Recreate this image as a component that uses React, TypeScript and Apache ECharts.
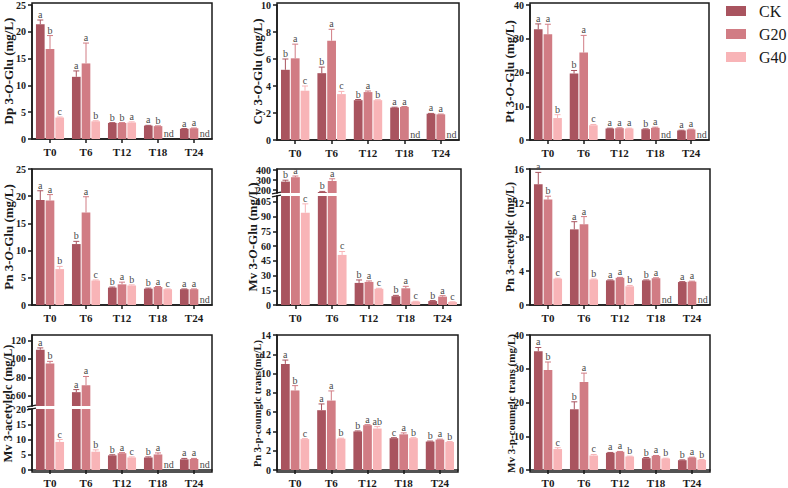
import { useEffect, useRef } from 'react';
import * as echarts from 'echarts';

const categories = ['T0', 'T6', 'T12', 'T18', 'T24'];
const groupNames = ['CK', 'G20', 'G40'];
const groupColors = ['#A9545F', '#D17C84', '#F8B4B7'];

// Each panel: means, SD and significance letters per group (CK, G20, G40); null = not detected
const dpMeans = [[21.4, 11.6, 3.0, 2.5, 1.9], [16.8, 14.1, 3.0, 2.4, 2.0], [4.0, 3.3, 3.1, null, null]];
const dpErrors = [[0.8, 1.1, 0.05, 0.05, 0.05], [2.5, 3.8, 0.05, 0.05, 0.05], [0.1, 0.1, 0.1, 0, 0]];
const dpLetters = [['a', 'a', 'b', 'a', 'a'], ['b', 'a', 'b', 'b', 'a'], ['c', 'b', 'a', 'nd', 'nd']];

const cyMeans = [[5.2, 4.95, 2.95, 2.4, 1.95], [6.05, 7.35, 3.55, 2.45, 1.9], [3.65, 3.4, 2.95, null, null]];
const cyErrors = [[0.8, 0.45, 0.05, 0.03, 0.02], [1.05, 0.85, 0.08, 0.03, 0.02], [0.35, 0.2, 0.03, 0, 0]];
const cyLetters = [['b', 'b', 'b', 'a', 'a'], ['a', 'a', 'a', 'a', 'a'], ['c', 'c', 'b', 'nd', 'nd']];

const ptMeans = [[32.8, 19.7, 3.4, 3.2, 2.8], [31.3, 25.9, 3.5, 3.6, 3.1], [6.5, 4.4, 3.4, null, null]];
const ptErrors = [[1.6, 0.9, 0.1, 0.1, 0.1], [3.0, 5.1, 0.1, 0.2, 0.1], [1.0, 0.2, 0.1, 0, 0]];
const ptLetters = [['a', 'b', 'a', 'b', 'a'], ['a', 'a', 'a', 'a', 'a'], ['b', 'c', 'a', 'nd', 'nd']];

const pnMeans = [[19.3, 11.2, 3.2, 3.0, 2.9], [19.2, 17.0, 3.8, 3.3, 2.9], [6.6, 4.5, 3.6, 2.9, null]];
const pnErrors = [[1.7, 0.5, 0.1, 0.1, 0.05], [1.1, 2.9, 0.4, 0.1, 0.05], [0.5, 0.1, 0.1, 0.05, 0]];
const pnLetters = [['a', 'b', 'b', 'b', 'a'], ['a', 'a', 'a', 'a', 'a'], ['b', 'c', 'b', 'c', 'nd']];

const mvMeans = [[284, 180, 22.5, 9.0, 4.0], [328, 290, 23.5, 17.0, 8.5], [94, 51, 16.5, 3.5, 3.0]];
const mvErrors = [[14, 6, 3.0, 0.8, 0.5], [12, 22, 1.0, 2.0, 1.0], [9, 3.5, 0.5, 0.3, 0.3]];
const mvLetters = [['b', 'b', 'b', 'b', 'b'], ['a', 'a', 'a', 'a', 'a'], ['c', 'c', 'c', 'c', 'c']];

const pnAcMeans = [[14.2, 8.9, 2.9, 2.9, 2.7], [12.4, 9.5, 3.2, 3.15, 2.75], [3.1, 3.0, 2.2, null, null]];
const pnAcErrors = [[1.4, 0.9, 0.05, 0.05, 0.05], [0.4, 0.9, 0.05, 0.05, 0.05], [0.05, 0.05, 0.1, 0, 0]];
const pnAcLetters = [['a', 'a', 'a', 'b', 'a'], ['b', 'a', 'a', 'a', 'a'], ['c', 'b', 'b', 'nd', 'nd']];

const mvAcMeans = [[110, 64, 4.8, 4.1, 3.5], [95, 71.5, 5.5, 5.1, 3.6], [9.2, 6.0, 4.1, null, null]];
const mvAcErrors = [[2.0, 2.8, 0.2, 0.2, 0.3], [2.4, 9.5, 0.2, 0.5, 0.2], [0.8, 0.6, 0.2, 0, 0]];
const mvAcLetters = [['a', 'a', 'b', 'b', 'a'], ['b', 'a', 'a', 'a', 'a'], ['c', 'b', 'c', 'nd', 'nd']];

const pnCoMeans = [[11.0, 6.2, 4.0, 3.3, 2.95], [8.25, 7.2, 4.65, 3.7, 3.15], [3.2, 3.25, 4.3, 3.3, 2.9]];
const pnCoErrors = [[0.4, 0.65, 0.05, 0.05, 0.05], [0.5, 1.0, 0.05, 0.15, 0.05], [0.05, 0.05, 0.2, 0.05, 0.05]];
const pnCoLetters = [['a', 'a', 'b', 'c', 'b'], ['b', 'a', 'a', 'a', 'a'], ['c', 'b', 'ab', 'b', 'b']];

const mvCoMeans = [[35.2, 18.0, 5.1, 3.5, 2.9], [29.6, 26.1, 5.4, 4.2, 3.7], [6.2, 4.3, 4.0, 3.4, 3.0]];
const mvCoErrors = [[1.1, 2.2, 0.1, 0.2, 0.1], [2.4, 2.6, 0.1, 0.1, 0.1], [0.4, 0.3, 0.1, 0.1, 0.1]];
const mvCoLetters = [['a', 'b', 'a', 'b', 'b'], ['b', 'a', 'a', 'a', 'a'], ['c', 'c', 'b', 'b', 'b']];

const SERIF = '"Liberation Serif", "Times New Roman", serif';
const INK = '#1a1a1a';
const CAT_GAP = 0.22;
const BAR_GAP = 0.12;

type Seg = { top: number; height: number; min: number; max: number; interval?: number; ticks?: number[] };
type PanelDef = {
  left: number;
  width: number;
  name: string;
  nameSize: number;
  nameGap: number;
  means: (number | null)[][];
  errors: number[][];
  letters: string[][];
  segs: Seg[];
};

const ROW1 = 3;
const ROW2 = 169;
const ROW3 = 335;
const COL1 = 32;
const COL2 = 277;
const COL3 = 530;

const panels: PanelDef[] = [
  {
    left: COL1, width: 180, name: '{r|Dp 3-}{i|O}{r|-Glu (mg/L)}', nameSize: 13, nameGap: 17,
    means: dpMeans, errors: dpErrors, letters: dpLetters,
    segs: [{ top: ROW1, height: 136, min: 0, max: 25, interval: 5 }],
  },
  {
    left: COL2, width: 182, name: '{r|Cy 3-}{i|O}{r|-Glu (mg/L)}', nameSize: 13, nameGap: 13,
    means: cyMeans, errors: cyErrors, letters: cyLetters,
    segs: [{ top: ROW1, height: 137, min: 0, max: 10, interval: 2 }],
  },
  {
    left: COL3, width: 179, name: '{r|Pt 3-}{i|O}{r|-Glu (mg/L)}', nameSize: 13, nameGap: 14,
    means: ptMeans, errors: ptErrors, letters: ptLetters,
    segs: [{ top: ROW1, height: 137, min: 0, max: 40, interval: 10 }],
  },
  {
    left: COL1, width: 180, name: '{r|Pn 3-}{i|O}{r|-Glu (mg/L)}', nameSize: 13, nameGap: 17,
    means: pnMeans, errors: pnErrors, letters: pnLetters,
    segs: [{ top: ROW2, height: 136, min: 0, max: 25, interval: 5 }],
  },
  {
    left: COL2, width: 184, name: '{r|Mv 3-}{i|O}{r|-Glu (mg/L)}', nameSize: 13, nameGap: 18,
    means: mvMeans, errors: mvErrors, letters: mvLetters,
    segs: [
      { top: ROW2, height: 24, min: 170, max: 410, ticks: [200, 300, 400] },
      { top: 196, height: 109, min: 0, max: 111, ticks: [0, 15, 30, 45, 60, 75, 90, 105] },
    ],
  },
  {
    left: COL3, width: 180, name: 'Pn 3-acetylglc (mg/L)', nameSize: 12, nameGap: 14,
    means: pnAcMeans, errors: pnAcErrors, letters: pnAcLetters,
    segs: [{ top: ROW2, height: 136, min: 0, max: 16, interval: 4 }],
  },
  {
    left: COL1, width: 180, name: 'Mv 3-acetylglc (mg/L)', nameSize: 12.5, nameGap: 18,
    means: mvAcMeans, errors: mvAcErrors, letters: mvAcLetters,
    segs: [
      { top: ROW3, height: 71, min: 49, max: 126, ticks: [60, 80, 100, 120] },
      { top: 409, height: 63, min: 0, max: 20, ticks: [0, 5, 10, 15, 20] },
    ],
  },
  {
    left: COL2, width: 181, name: 'Pn 3-p-coumglc trans(mg/L)', nameSize: 10.5, nameGap: 14,
    means: pnCoMeans, errors: pnCoErrors, letters: pnCoLetters,
    segs: [{ top: ROW3, height: 137, min: 0, max: 14, interval: 2 }],
  },
  {
    left: COL3, width: 180, name: 'Mv 3-p-coumglc trans (mg/L)', nameSize: 11, nameGap: 14,
    means: mvCoMeans, errors: mvCoErrors, letters: mvCoLetters,
    segs: [{ top: ROW3, height: 137, min: 0, max: 40, interval: 10 }],
  },
];

function buildOption() {
  const grid: any[] = [];
  const xAxis: any[] = [];
  const yAxis: any[] = [];
  const series: any[] = [];
  const graphic: any[] = [];
  const axisLineStyle = { color: INK, width: 1.5 };

  panels.forEach((p) => {
    const first = p.segs[0];
    const last = p.segs[p.segs.length - 1];
    const frameTop = first.top;
    const frameBottom = last.top + last.height;

    // frame grid: box outline and the axis title
    const fi = grid.length;
    grid.push({
      left: p.left, top: frameTop, width: p.width, height: frameBottom - frameTop,
      show: true, borderColor: INK, borderWidth: 1.5, backgroundColor: 'transparent',
    });
    xAxis.push({ gridIndex: fi, type: 'category', data: categories, show: false });
    yAxis.push({
      gridIndex: fi, type: 'value', min: 0, max: 1,
      axisLine: { show: false }, axisTick: { show: false }, axisLabel: { show: false }, splitLine: { show: false },
      name: p.name, nameLocation: 'middle', nameGap: p.nameGap,
      nameTextStyle: {
        fontFamily: SERIF, fontWeight: 'bold', fontSize: p.nameSize, color: INK,
        rich: {
          r: { fontFamily: SERIF, fontWeight: 'bold', fontSize: p.nameSize, color: INK },
          i: { fontFamily: SERIF, fontWeight: 'bold', fontStyle: 'italic', fontSize: p.nameSize, color: INK },
        },
      },
    });

    p.segs.forEach((s, si) => {
      const gi = grid.length;
      const isBottom = si === p.segs.length - 1;
      grid.push({ left: p.left, top: s.top, width: p.width, height: s.height, show: false });
      xAxis.push({
        gridIndex: gi, type: 'category', data: categories, show: isBottom,
        axisLine: { show: true, lineStyle: axisLineStyle },
        axisTick: { show: true, alignWithLabel: true, length: 4, lineStyle: { color: INK, width: 1.5 } },
        axisLabel: { color: INK, fontFamily: SERIF, fontWeight: 'bold', fontSize: 11, margin: 7 },
      });
      const y: any = {
        gridIndex: gi, type: 'value', min: s.min, max: s.max,
        axisLine: { show: true, lineStyle: axisLineStyle },
        axisTick: { show: true, length: 4, lineStyle: { color: INK, width: 1.5 } },
        axisLabel: { color: INK, fontFamily: SERIF, fontWeight: 'bold', fontSize: 10, margin: 6 },
        splitLine: { show: false },
      };
      if (s.interval) y.interval = s.interval;
      if (s.ticks) {
        y.axisTick.customValues = s.ticks;
        y.axisLabel.customValues = s.ticks;
      }
      yAxis.push(y);

      groupNames.forEach((g, i) => {
        series.push({
          type: 'bar', name: g, xAxisIndex: gi, yAxisIndex: gi,
          data: p.means[i], barCategoryGap: `${CAT_GAP * 100}%`, barGap: `${BAR_GAP * 100}%`,
          itemStyle: { color: groupColors[i] }, silent: true, z: 2,
        });
      });

      groupNames.forEach((g, i) => {
        series.push({
          type: 'custom', name: `${g} sd`, xAxisIndex: gi, yAxisIndex: gi, silent: true, z: 3,
          data: categories.map((_, k) => [k, s.min]),
          encode: { x: 0, y: 1 },
          renderItem: (params: any, api: any) => {
            const k = params.dataIndex;
            const mean = p.means[i][k];
            const letter = p.letters[i][k];
            const band = api.size([1, 0])[0];
            const bw = (band * (1 - CAT_GAP)) / (3 + 2 * BAR_GAP);
            const cx = api.coord([k, s.min])[0] + (i - 1) * bw * (1 + BAR_GAP);
            const children: any[] = [];
            const textStyle = { fontFamily: SERIF, fontSize: 10, fill: '#4a4a4a' };
            if (mean == null) {
              if (isBottom) {
                children.push({
                  type: 'text',
                  style: { text: letter, x: cx + 1, y: api.coord([k, 0])[1] - 0.5, align: 'center', verticalAlign: 'bottom', ...textStyle },
                });
              }
              return { type: 'group', children };
            }
            const topVal = mean + p.errors[i][k];
            const a = Math.max(mean, s.min);
            const b = Math.min(topVal, s.max);
            const col = groupColors[i];
            if (b > a) {
              children.push({
                type: 'line',
                shape: { x1: cx, y1: api.coord([k, a])[1], x2: cx, y2: api.coord([k, b])[1] },
                style: { stroke: col, lineWidth: 1 },
              });
            }
            if (topVal >= s.min && topVal <= s.max) {
              const yt = api.coord([k, topVal])[1];
              children.push({
                type: 'line',
                shape: { x1: cx - 3, y1: yt, x2: cx + 3, y2: yt },
                style: { stroke: col, lineWidth: 1 },
              });
              children.push({
                type: 'text',
                style: { text: letter, x: cx, y: yt - 0.5, align: 'center', verticalAlign: 'bottom', ...textStyle },
              });
            }
            return { type: 'group', children };
          },
        });
      });
    });

    // axis break marks on the left spine
    if (p.segs.length > 1) {
      const gapTop = first.top + first.height;
      const gapBottom = p.segs[1].top;
      graphic.push({
        type: 'rect', z: 100,
        shape: { x: p.left - 2, y: gapTop + 0.8, width: 4, height: gapBottom - gapTop - 1.6 },
        style: { fill: '#fff' },
      });
      [gapTop, gapBottom].forEach((yy) => {
        graphic.push({
          type: 'line', z: 101,
          shape: { x1: p.left - 5, y1: yy + 0.8, x2: p.left + 4, y2: yy - 0.8 },
          style: { stroke: INK, lineWidth: 1.2 },
        });
      });
    }
  });

  return {
    animation: false,
    backgroundColor: '#ffffff',
    legend: {
      data: groupNames,
      orient: 'vertical',
      left: 726,
      top: 3,
      padding: 0,
      itemWidth: 20,
      itemHeight: 10,
      itemGap: 7,
      icon: 'rect',
      selectedMode: false,
      textStyle: { fontFamily: SERIF, fontSize: 16, color: INK, padding: [0, 0, 0, 8] },
    },
    grid,
    xAxis,
    yAxis,
    series,
    graphic,
  };
}

export default function App() {
  const ref = useRef<HTMLDivElement>(null);
  useEffect(() => {
    if (!ref.current) return;
    const chart = echarts.init(ref.current, undefined, { renderer: 'svg' });
    chart.setOption(buildOption() as any);
    return () => chart.dispose();
  }, []);
  return (
    <div
      ref={ref}
      style={{ position: 'absolute', left: 0, top: 0, width: 788, height: 488, background: '#fff' }}
    />
  );
}
